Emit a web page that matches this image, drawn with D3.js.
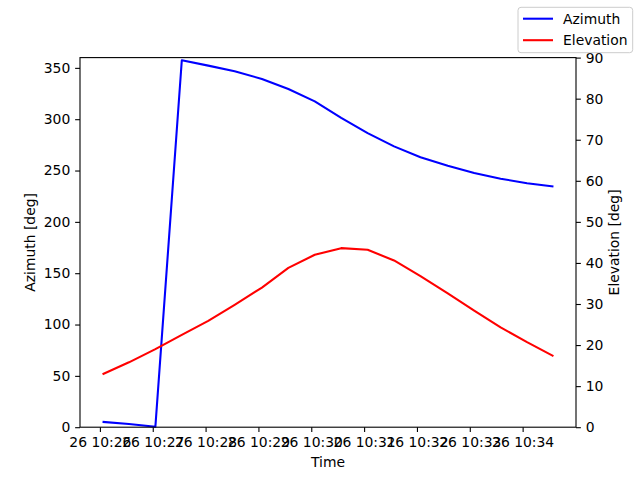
<!DOCTYPE html>
<html>
<head>
<meta charset="utf-8">
<script src="https://cdn.jsdelivr.net/npm/d3@7"></script>
<style>
body { margin: 0; background: #fff; }
text { font-family: "DejaVu Sans", sans-serif; }
</style>
</head>
<body>
<div id="chart"></div>
<script>
// sample times (day 26)
var times = ["10:26:03", "10:26:33", "10:27:03", "10:27:33", "10:28:03", "10:28:33",
             "10:29:04", "10:29:34", "10:30:04", "10:30:34", "10:31:04", "10:31:34",
             "10:32:04", "10:32:35", "10:33:05", "10:33:35", "10:34:05", "10:34:35"];
var azimuth = [5.2, 3.2, 0.5, 357.4, 352.2, 346.7, 339.2, 329.4, 317.4, 301.2,
               286.5, 273.5, 263.0, 254.6, 247.5, 242.0, 237.7, 234.4];
var elevation = [12.9, 15.8, 19.0, 22.5, 25.9, 29.8, 34.0, 38.8, 42.0, 43.6,
                 43.2, 40.6, 36.8, 32.6, 28.4, 24.3, 20.7, 17.3];
var azTicks = [0, 50, 100, 150, 200, 250, 300, 350];
var elTicks = [0, 10, 20, 30, 40, 50, 60, 70, 80, 90];

var width = 640, height = 480;
var pLeft = 80, pRight = 576, pTop = 57.6, pBottom = 427.2;
var fs = 13.9, tk = 4.86;

var parse = d3.timeParse("%Y-%m-%d %H:%M:%S");
var data = times.map(function(t, i) {
  return { t: parse("2023-05-26 " + t), az: azimuth[i], el: elevation[i] };
});

var svg = d3.select("#chart").append("svg").attr("width", width).attr("height", height);

var ext = d3.extent(data, function(d) { return d.t; });
var pad = (ext[1] - ext[0]) * 0.05;
var x = d3.scaleTime().domain([new Date(+ext[0] - pad), new Date(+ext[1] + pad)]).range([pLeft, pRight]);
var yL = d3.scaleLinear().domain([0, 360]).range([pBottom, pTop]);
var yR = d3.scaleLinear().domain([0, 90]).range([pBottom, pTop]);

function style(g) {
  g.attr("font-size", fs).attr("font-family", "DejaVu Sans, sans-serif");
  g.select(".domain").remove();
  g.selectAll(".tick line").attr("stroke", "#000").attr("stroke-width", 1.1);
  g.selectAll(".tick text").attr("fill", "#000");
}

var xTicks = d3.timeMinute.range(d3.timeMinute.ceil(x.domain()[0]), ext[1]);
svg.append("g").attr("transform", "translate(0," + pBottom + ")")
  .call(d3.axisBottom(x).tickValues(xTicks).tickFormat(d3.timeFormat("%d %H:%M")).tickSize(tk).tickPadding(tk))
  .call(style);
svg.append("g").attr("transform", "translate(" + pLeft + ",0)")
  .call(d3.axisLeft(yL).tickValues(azTicks).tickSize(tk).tickPadding(tk))
  .call(style);
svg.append("g").attr("transform", "translate(" + pRight + ",0)")
  .call(d3.axisRight(yR).tickValues(elTicks).tickSize(tk).tickPadding(tk))
  .call(style);

var azLine = d3.line().x(function(d) { return x(d.t); }).y(function(d) { return yL(d.az); });
var elLine = d3.line().x(function(d) { return x(d.t); }).y(function(d) { return yR(d.el); });

svg.append("path").datum(data).attr("d", azLine)
  .attr("fill", "none").attr("stroke", "#0000ff").attr("stroke-width", 2.08).attr("stroke-linejoin", "round");
svg.append("path").datum(data).attr("d", elLine)
  .attr("fill", "none").attr("stroke", "#ff0000").attr("stroke-width", 2.08).attr("stroke-linejoin", "round");

// frame
svg.append("rect").attr("x", pLeft).attr("y", pTop).attr("width", pRight - pLeft).attr("height", pBottom - pTop)
  .attr("fill", "none").attr("stroke", "#000").attr("stroke-width", 1.1);

// labels
svg.append("text").attr("x", (pLeft + pRight) / 2).attr("y", 467).attr("text-anchor", "middle")
  .attr("font-size", fs).text("Time");
svg.append("text").attr("transform", "translate(35," + (pTop + pBottom) / 2 + ") rotate(-90)")
  .attr("text-anchor", "middle").attr("font-size", fs).text("Azimuth [deg]");
svg.append("text").attr("transform", "translate(619," + (pTop + pBottom) / 2 + ") rotate(-90)")
  .attr("text-anchor", "middle").attr("font-size", fs).text("Elevation [deg]");

// legend
var leg = svg.append("g");
leg.append("rect").attr("x", 518).attr("y", 7.3).attr("width", 114.7).attr("height", 45.4).attr("rx", 3)
  .attr("fill", "#fff").attr("fill-opacity", 0.8).attr("stroke", "#cccccc").attr("stroke-width", 1);
var names = ["Azimuth", "Elevation"], cols = ["#0000ff", "#ff0000"];
names.forEach(function(n, i) {
  var yy = 18.7 + i * 21.5;
  leg.append("line").attr("x1", 523).attr("x2", 553).attr("y1", yy).attr("y2", yy)
    .attr("stroke", cols[i]).attr("stroke-width", 2.08);
  leg.append("text").attr("x", 563).attr("y", yy).attr("dy", "0.35em").attr("font-size", fs).text(n);
});
</script>
</body>
</html>
